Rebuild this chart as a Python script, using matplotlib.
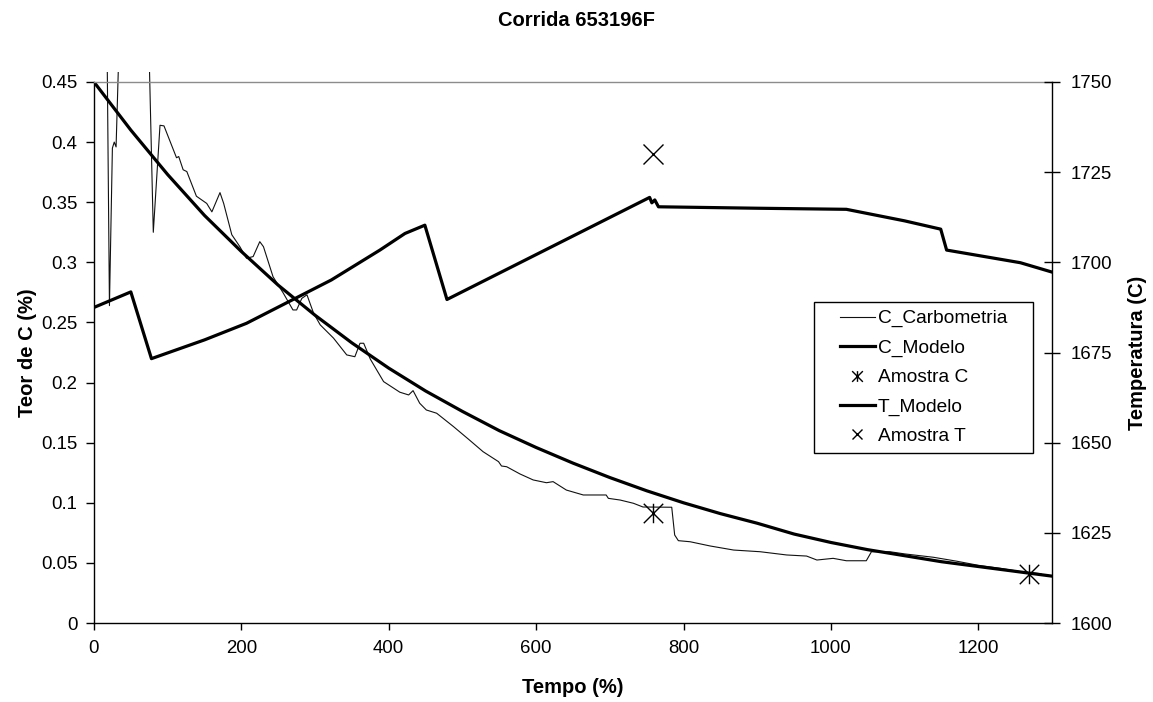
import matplotlib
matplotlib.use("Agg")
import matplotlib.pyplot as plt
from matplotlib.path import Path
from matplotlib.patches import Rectangle
from matplotlib.offsetbox import DrawingArea

plt.rcParams['font.family'] = ['Liberation Sans', 'DejaVu Sans']

# ---- data ----
tempo_carb = [16, 21, 25, 27.5, 30, 42, 70, 80.5, 89.6, 95, 112, 115, 121, 126,
              139, 153, 160, 171, 176, 187, 198, 207, 216, 225, 230, 243, 257,
              270, 275, 282, 289, 298, 307, 325, 343, 354, 361, 366, 375, 393,
              415, 427, 433, 442, 451, 465, 488, 508, 528, 549, 553, 560, 578,
              596, 614, 623, 641, 664, 682, 695, 698, 714, 732, 745, 784, 788,
              793, 809, 836, 868, 904, 940, 967, 981, 1003, 1021, 1048, 1055,
              1080, 1100, 1139, 1170, 1200, 1230, 1260, 1285]
c_carb = [0.60, 0.264, 0.395, 0.400, 0.396, 0.65, 0.60, 0.325, 0.414, 0.4135,
          0.387, 0.388, 0.377, 0.3755, 0.355, 0.349, 0.342, 0.358, 0.349,
          0.323, 0.313, 0.3034, 0.3048, 0.3172, 0.313, 0.288, 0.2743, 0.2604,
          0.2604, 0.270, 0.273, 0.2577, 0.248, 0.237, 0.223, 0.2215, 0.2327,
          0.2327, 0.2195, 0.2008, 0.192, 0.1897, 0.1933, 0.1828, 0.1772,
          0.1745, 0.1633, 0.153, 0.1425, 0.1342, 0.1306, 0.130, 0.124, 0.119,
          0.1167, 0.1176, 0.1106, 0.1065, 0.1065, 0.1065, 0.1037, 0.1023,
          0.0996, 0.0965, 0.0963, 0.0732, 0.0685, 0.0676, 0.0641, 0.0607,
          0.0593, 0.0566, 0.0557, 0.0524, 0.0538, 0.0518, 0.0518, 0.0593,
          0.0593, 0.0575, 0.0547, 0.0515, 0.048, 0.0455, 0.0425, 0.041]

tempo_modelo = [0, 50, 100, 150, 200, 250, 300, 350, 400, 450, 500, 550, 600,
                650, 700, 750, 800, 850, 900, 950, 1000, 1050, 1100, 1150,
                1200, 1250, 1300]
c_modelo = [0.450, 0.410, 0.373, 0.339, 0.309, 0.281, 0.256, 0.233, 0.212,
            0.193, 0.176, 0.160, 0.146, 0.133, 0.121, 0.110, 0.100, 0.091,
            0.083, 0.074, 0.067, 0.061, 0.056, 0.051, 0.047, 0.043, 0.039]

tempo_t = [0, 50, 78, 150, 207, 275, 322, 388, 422, 449, 479, 754, 757, 761,
           766, 900, 1021, 1100, 1149, 1157, 1257, 1300]
t_modelo = [1687.5, 1691.8, 1673.3, 1678.5, 1683.1, 1690.2, 1695.1, 1703.4,
            1708.0, 1710.3, 1689.7, 1718.0, 1716.5, 1717.3, 1715.4, 1715.0,
            1714.7, 1711.5, 1709.2, 1703.4, 1699.9, 1697.3]

tempo_amostra_c = [759, 1269]
c_amostra = [0.0918, 0.0405]
tempo_amostra_t = [759]
t_amostra = [1730]

xticks = [0, 200, 400, 600, 800, 1000, 1200]
yticks_c = [0, 0.05, 0.1, 0.15, 0.2, 0.25, 0.3, 0.35, 0.4, 0.45]
ytick_c_labels = ['0', '0.05', '0.1', '0.15', '0.2', '0.25', '0.3', '0.35', '0.4', '0.45']
yticks_t = [1600, 1625, 1650, 1675, 1700, 1725, 1750]

# Excel-style star: X with a vertical bar
star = Path([(0, -1), (0, 1), (-1, -1), (1, 1), (-1, 1), (1, -1)],
            [Path.MOVETO, Path.LINETO, Path.MOVETO, Path.LINETO,
             Path.MOVETO, Path.LINETO])

fig = plt.figure(figsize=(11.53, 7.02), dpi=100)
ax = fig.add_axes([0.0815, 0.1125, 0.8309, 0.7707])
ax2 = ax.twinx()

fs = 13.4
fs_leg = 13.8

# carbon series (the raw trace may run slightly above the plot frame)
clip = Rectangle((0, 0), 1, 1.0185, transform=ax.transAxes, facecolor='none',
                 edgecolor='none')
ax.add_patch(clip)
l_carb, = ax.plot(tempo_carb, c_carb, color='#111111', lw=0.8,
                  label='C_Carbometria')
l_carb.set_clip_path(clip)
l_cmod, = ax.plot(tempo_modelo, c_modelo, color='black', lw=2.3,
                  label='C_Modelo')
l_cam, = ax.plot(tempo_amostra_c, c_amostra, linestyle='none', marker=star,
                 markersize=14, markeredgewidth=1.0, markeredgecolor='black',
                 color='black', label='Amostra C', clip_on=False)

# temperature series
l_tmod, = ax2.plot(tempo_t, t_modelo, color='black', lw=2.3, label='T_Modelo')
l_tam, = ax2.plot(tempo_amostra_t, t_amostra, linestyle='none', marker='x',
                  markersize=14, markeredgewidth=1.0, color='black',
                  label='Amostra T')

ax.set_xlim(0, 1300)
ax.set_ylim(0, 0.45)
ax2.set_ylim(1600, 1750)

ax.set_xticks(xticks)
ax.set_xticklabels([str(v) for v in xticks])
ax.set_yticks(yticks_c)
ax.set_yticklabels(ytick_c_labels)
ax2.set_yticks(yticks_t)
ax2.set_yticklabels([str(v) for v in yticks_t])

ax.tick_params(axis='x', direction='out', length=5, width=1, pad=7,
               labelsize=fs, colors='black')
ax.tick_params(axis='y', direction='out', length=6, width=1, pad=6,
               labelsize=fs, colors='black')
ax2.tick_params(axis='y', direction='inout', length=11, width=1, pad=8,
                labelsize=fs, colors='black')

for s in ['left', 'bottom']:
    ax.spines[s].set_color('black')
    ax.spines[s].set_linewidth(1.0)
ax.spines['top'].set_color('#8c8c8c')
ax.spines['top'].set_linewidth(1.0)
ax.spines['right'].set_visible(False)
for s in ['left', 'bottom', 'top']:
    ax2.spines[s].set_visible(False)
ax2.spines['right'].set_color('black')
ax2.spines['right'].set_linewidth(1.0)

ax.set_xlabel('Tempo (%)', fontsize=14.5, fontweight='bold', labelpad=15)
ax.set_ylabel('Teor de C (%)', fontsize=14.5, fontweight='bold', labelpad=3)
ax2.set_ylabel('Temperatura (C)', fontsize=14.5, fontweight='bold', labelpad=11)
fig.suptitle('Corrida 653196F', fontsize=14.5, fontweight='bold', y=0.984)

leg = ax2.legend(handles=[l_carb, l_cmod, l_cam, l_tmod, l_tam],
                 loc='upper right', bbox_to_anchor=(0.980, 0.593),
                 fontsize=fs_leg, frameon=True, fancybox=False, framealpha=1,
                 edgecolor='black', borderpad=0.4, handlelength=1.8,
                 handletextpad=0.15, labelspacing=0.62, borderaxespad=0,
                 columnspacing=0.95, markerscale=0.55)
leg.get_frame().set_linewidth(1.0)
# wider side margins than top/bottom: empty spacers either side of the entries
hbox = leg._legend_handle_box
hbox._children = [DrawingArea(0, 0)] + list(hbox._children) + [DrawingArea(0, 0)]

fig.savefig('out.png', dpi=100, facecolor='white')
